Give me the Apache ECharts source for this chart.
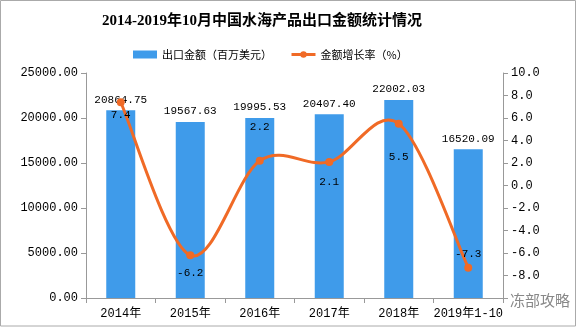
<!DOCTYPE html>
<html><head><meta charset="utf-8">
<script src="https://cdn.jsdelivr.net/npm/echarts@6/dist/echarts.min.js"></script>
<style>html,body{margin:0;padding:0;background:#fff}#c{width:576px;height:327px}</style>
</head><body><div id="c"></div>
<script>
const categories = ['2014年','2015年','2016年','2017年','2018年','2019年1-10'];
const exportValues = [20864.75, 19567.63, 19995.53, 20407.40, 22002.03, 16520.09];
const growthRates = [7.4, -6.2, 2.2, 2.1, 5.5, -7.3];
const growthLabelPos = ['bottom','bottom','top','bottom','bottom','top'];
const growthLabelDist = [3, 8, 24, 11, 24, 4];

const chart = echarts.init(document.getElementById('c'));
const mono = '"Liberation Mono", "Noto Sans CJK SC", monospace';
const lineColor = '#f06a26';
const barColor = '#3f9bea';
chart.setOption({
  animation: false,
  title: {
    text: '2014-2019年10月中国水海产品出口金额统计情况',
    left: 97, top: 9,
    textStyle: {fontSize: 15, fontWeight: 'bold', color: '#000', fontFamily: '"Liberation Serif", "Noto Sans CJK SC", serif'}
  },
  legend: {
    top: 44, left: 128, itemGap: 18, itemWidth: 24, itemHeight: 8,
    textStyle: {fontSize: 11, color: '#000', fontFamily: '"Noto Sans CJK SC", sans-serif'},
    data: [
      {name: '出口金额（百万美元）', icon: 'rect', itemStyle: {color: barColor}},
      {name: '金额增长率（%）', lineStyle: {color: lineColor, width: 3, opacity: 1}, itemStyle: {color: lineColor}}
    ]
  },
  grid: {left: 86, right: 73, top: 73, bottom: 29},
  xAxis: {
    type: 'category', data: categories,
    axisLine: {lineStyle: {color: '#999'}},
    axisTick: {show: true, lineStyle: {color: '#999'}},
    axisLabel: {color: '#000', fontSize: 12, fontFamily: mono, margin: 10, interval: 0}
  },
  yAxis: [
    {
      type: 'value', min: 0, max: 25000, interval: 5000,
      axisLine: {show: true, lineStyle: {color: '#999'}},
      axisTick: {show: true, lineStyle: {color: '#999'}},
      splitLine: {show: false},
      axisLabel: {color: '#000', fontSize: 12, fontFamily: mono, formatter: v => v.toFixed(2)}
    },
    {
      type: 'value', min: -10, max: 10, interval: 2,
      axisLine: {show: true, lineStyle: {color: '#999'}},
      axisTick: {show: true, lineStyle: {color: '#999'}},
      splitLine: {show: false},
      axisLabel: {color: '#000', fontSize: 12, fontFamily: mono, formatter: v => v === -10 ? '' : v.toFixed(1)}
    }
  ],
  series: [
    {
      name: '出口金额（百万美元）', type: 'bar', data: exportValues, barWidth: 29,
      itemStyle: {color: barColor},
      label: {show: true, position: 'top', distance: 5, color: '#000', fontSize: 11, fontFamily: mono, formatter: p => p.value.toFixed(2)}
    },
    {
      name: 'growthCurve', type: 'custom', yAxisIndex: 1, silent: true, z: 3,
      data: growthRates.map((v, i) => [i, v]),
      renderItem: function (params, api) {
        const n = growthRates.length;
        const i = params.dataIndex;
        if (i >= n - 1) return null;
        const P = k => { const j = Math.max(0, Math.min(n - 1, k)); return api.coord([j, growthRates[j]]); };
        const p0 = P(i - 1), p1 = P(i), p2 = P(i + 1), p3 = P(i + 2);
        const t = 6;
        return {
          type: 'bezierCurve',
          shape: {
            x1: p1[0], y1: p1[1], x2: p2[0], y2: p2[1],
            cpx1: p1[0] + (p2[0] - p0[0]) / t, cpy1: p1[1] + (p2[1] - p0[1]) / t,
            cpx2: p2[0] - (p3[0] - p1[0]) / t, cpy2: p2[1] - (p3[1] - p1[1]) / t
          },
          style: {stroke: lineColor, lineWidth: 3, fill: null}
        };
      }
    },
    {
      name: '金额增长率（%）', type: 'line', yAxisIndex: 1, z: 4,
      data: growthRates.map((v, i) => ({value: v, label: {position: growthLabelPos[i], distance: growthLabelDist[i]}})),
      symbol: 'circle', symbolSize: 8,
      lineStyle: {color: lineColor, width: 3, opacity: 0},
      itemStyle: {color: lineColor},
      label: {show: true, color: '#000', fontSize: 11, fontFamily: mono, formatter: p => p.value.toFixed(1)}
    }
  ],
  graphic: [
    {type: 'rect', shape: {x: 0.5, y: 0.5, width: 575, height: 325.5}, style: {fill: 'none', stroke: '#aaa', lineWidth: 1}, silent: true},
    {type: 'text', left: 510, top: 293, style: {text: '冻部攻略', fill: '#888', font: '15px "Noto Sans CJK SC"'}, silent: true}
  ]
});
</script></body></html>
